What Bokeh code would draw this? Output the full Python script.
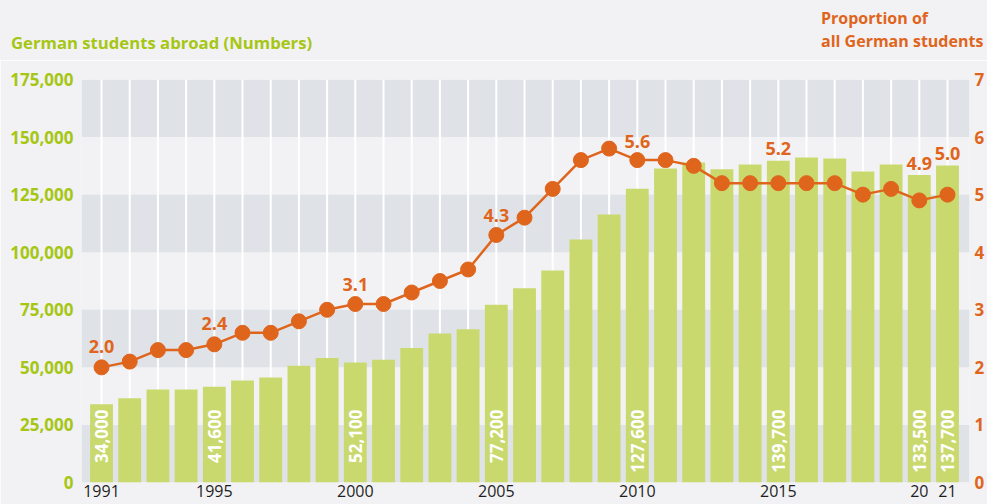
from bokeh.plotting import figure
from bokeh.layouts import column
from bokeh.models import (Range1d, LinearAxis, FixedTicker, NumeralTickFormatter,
                          ColumnDataSource, Div)
from bokeh.core.properties import value
from bokeh.embed import file_html
from bokeh.resources import INLINE

# ---------------- data ----------------
years = list(range(1991, 2022))
students = [34000, 36600, 40400, 40400, 41600, 44300, 45600, 50700, 54100, 52100,
            53300, 58400, 64700, 66600, 77200, 84300, 92100, 105500, 116400, 127600,
            136400, 139000, 136000, 138100, 139700, 141100, 140700, 135100, 138100,
            133500, 137700]
proportion = [2.0, 2.1, 2.3, 2.3, 2.4, 2.6, 2.6, 2.8, 3.0, 3.1,
              3.1, 3.3, 3.5, 3.7, 4.3, 4.6, 5.1, 5.6, 5.8, 5.6,
              5.6, 5.5, 5.2, 5.2, 5.2, 5.2, 5.2, 5.0, 5.1, 4.9, 5.0]
bar_label_years = [1991, 1995, 2000, 2005, 2010, 2015, 2020, 2021]
bar_label_texts = ["34,000", "41,600", "52,100", "77,200", "127,600", "139,700",
                   "133,500", "137,700"]
point_label_years = [1991, 1995, 2000, 2005, 2010, 2015, 2020, 2021]
point_label_texts = ["2.0", "2.4", "3.1", "4.3", "5.6", "5.2", "4.9", "5.0"]
left_ticks = [0, 25000, 50000, 75000, 100000, 125000, 150000, 175000]
right_ticks = [0, 1, 2, 3, 4, 5, 6, 7]
x_ticks = [1991, 1995, 2000, 2005, 2010, 2015, 2020, 2021]
x_tick_overrides = {2020: "20", 2021: "21"}
title_left = "German students abroad (Numbers)"
title_right = ["Proportion of", "all German students"]

# ---------------- style ----------------
GREEN = "#a6c614"
BAR = "#c9d96e"
ORANGE = "#e0651c"
BG = "#f2f2f4"
BAND = "#dfe2e7"
FONT = "Open Sans"

W = 987
HEAD_H = 60
MAIN_H = 444
X0, X1 = 1990.29, 2021.78
YMAX = left_ticks[-1]

# ---------------- header (titles) ----------------
head_html = (
    f'<div style="position:relative;width:{W}px;height:{HEAD_H}px;background:{BG};'
    f"font-family:'{FONT}';font-weight:700;margin:0;padding:0;\">"
    f'<div style="position:absolute;left:11px;top:34px;font-size:16.7px;line-height:17px;'
    f'color:{GREEN};white-space:nowrap;">{title_left}</div>'
    f'<div style="position:absolute;left:821px;top:7px;font-size:16px;line-height:23px;'
    f'color:{ORANGE};white-space:nowrap;">{title_right[0]}<br>{title_right[1]}</div>'
    '</div>'
)
head = Div(text=head_html, width=W, height=HEAD_H, margin=(0, 0, 0, 0))

# ---------------- main chart ----------------
p = figure(width=W, height=MAIN_H, x_range=Range1d(X0, X1), y_range=Range1d(0, YMAX),
           output_backend="svg", toolbar_location=None,
           min_border_left=81, min_border_right=17, min_border_top=19,
           min_border_bottom=22, y_axis_location=None)
p.extra_y_ranges = {"prop": Range1d(0, right_ticks[-1])}
p.background_fill_color = BG
p.border_fill_color = BG
p.outline_line_color = None
p.grid.visible = False

# alternating bands
p.quad(left=X0, right=X1, bottom=left_ticks[0:-1:2], top=left_ticks[1::2],
       fill_color=BAND, line_color=None)
# vertical white lines at each year
p.segment(x0=years, y0=0, x1=years, y1=YMAX, line_color="white", line_width=2)

src = ColumnDataSource(dict(year=years, students=students, prop=proportion))
p.vbar(x="year", top="students", width=0.81, source=src, fill_color=BAR,
       line_color=None)

p.text(x=bar_label_years, y=[31700] * len(bar_label_years), text=bar_label_texts,
       angle=1.5708, text_align="right", text_baseline="middle",
       text_color="white", text_font=value(FONT), text_font_style="bold",
       text_font_size="17px")

p.line(x="year", y="prop", source=src, y_range_name="prop", line_color=ORANGE,
       line_width=2.5)
p.scatter(x="year", y="prop", source=src, y_range_name="prop", size=15,
          fill_color=ORANGE, line_color=ORANGE)

lab_prop = [proportion[years.index(y)] for y in point_label_years]
lab_dy = [-21, -21, -20, -19, -19, -35, -37, -41]
p.text(x=point_label_years, y=lab_prop, text=point_label_texts, y_range_name="prop",
       y_offset=lab_dy, text_align="center", text_baseline="alphabetic",
       text_color=ORANGE, text_font=value(FONT), text_font_style="bold",
       text_font_size="18px")

la = LinearAxis(ticker=FixedTicker(ticks=left_ticks),
                formatter=NumeralTickFormatter(format="0,0"))
ra = LinearAxis(y_range_name="prop", ticker=FixedTicker(ticks=right_ticks))
for ax, col, st in ((la, GREEN, 8), (ra, ORANGE, 5)):
    ax.axis_line_color = None
    ax.major_tick_line_color = None
    ax.minor_tick_line_color = None
    ax.major_tick_out = 0
    ax.major_tick_in = 0
    ax.minor_tick_out = 0
    ax.major_label_text_color = col
    ax.major_label_text_font = FONT
    ax.major_label_text_font_style = "bold"
    ax.major_label_text_font_size = "17px"
    ax.major_label_standoff = st
p.add_layout(la, "left")
p.add_layout(ra, "right")

xa = p.xaxis[0]
xa.ticker = FixedTicker(ticks=x_ticks)
xa.major_label_overrides = x_tick_overrides
xa.axis_line_color = None
xa.major_tick_line_color = None
xa.minor_tick_line_color = None
xa.major_tick_out = 0
xa.major_tick_in = 0
xa.minor_tick_out = 0
xa.major_label_text_color = "#1e1e1e"
xa.major_label_text_font = FONT
xa.major_label_text_font_size = "16px"
xa.major_label_standoff = 2

layout = column(head, p, spacing=0)
open("out.html", "w").write(file_html(layout, INLINE))
